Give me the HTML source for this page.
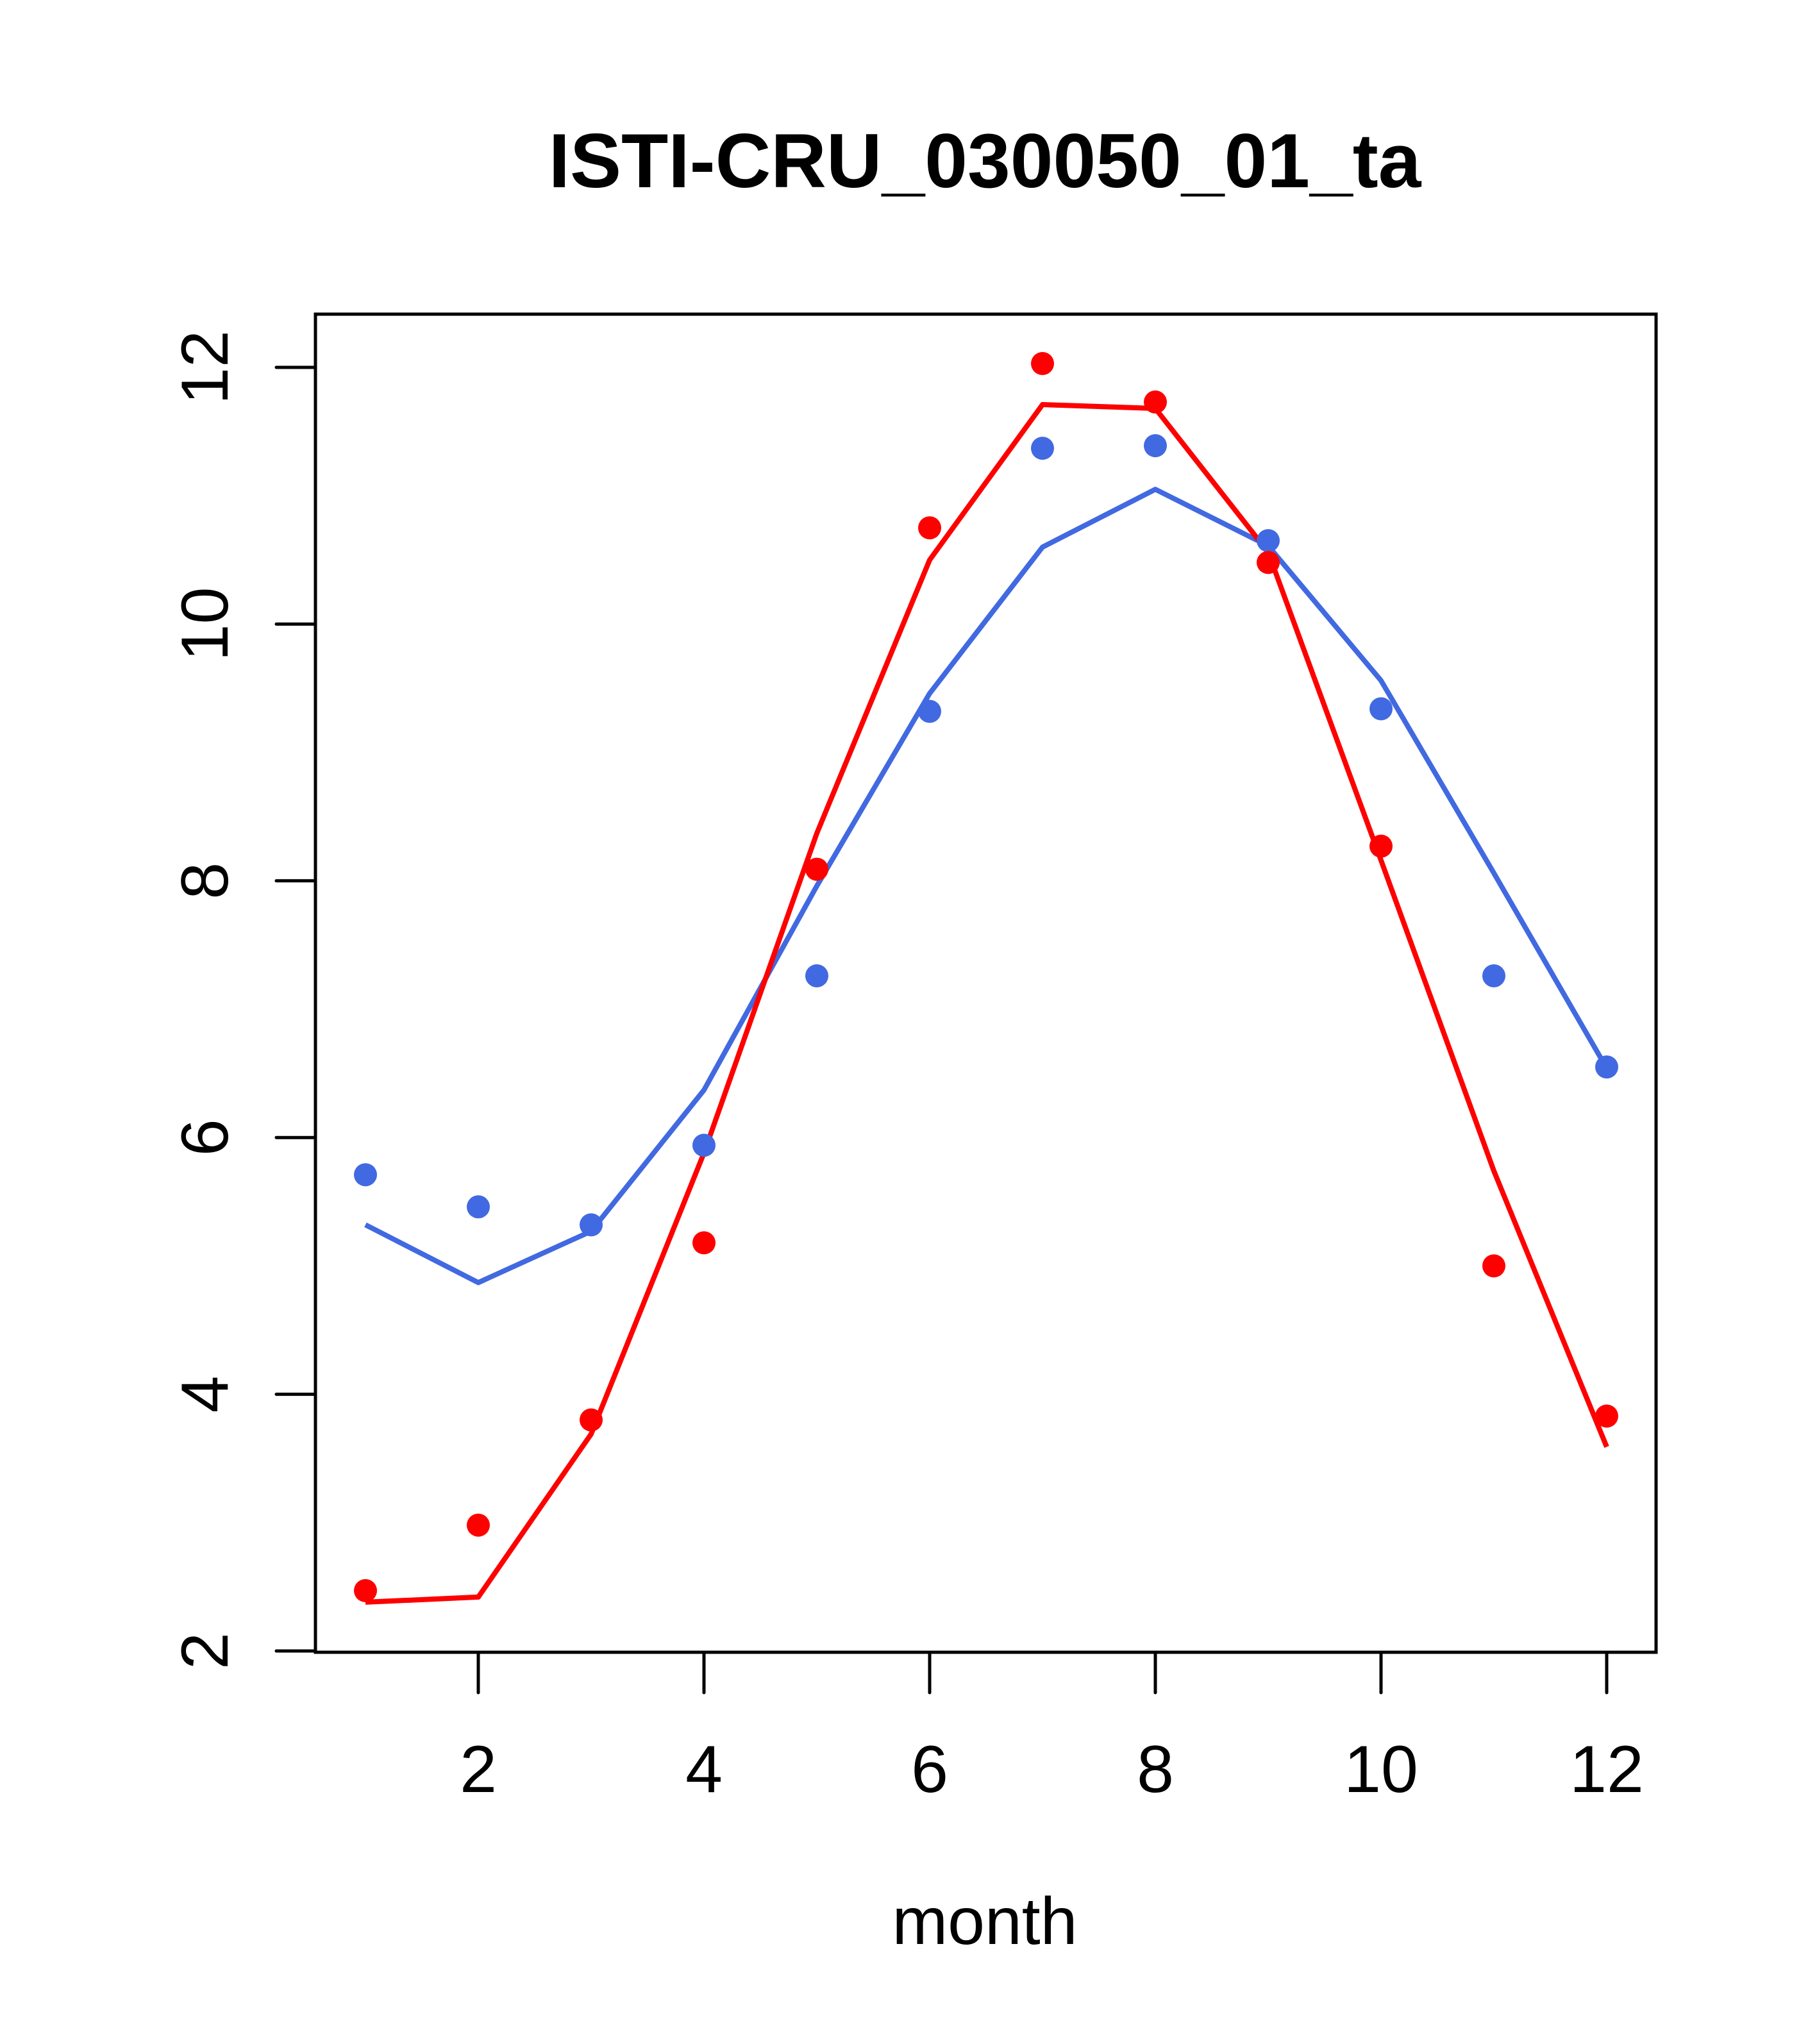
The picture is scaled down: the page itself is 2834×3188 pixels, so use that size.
<!DOCTYPE html>
<html><head><meta charset="utf-8"><style>body{margin:0;background:#fff}svg{display:block}text{font-family:"Liberation Sans",sans-serif}</style></head>
<body>
<svg id="chart" width="2834" height="3188" viewBox="0 0 2834 3188" xmlns="http://www.w3.org/2000/svg">
<rect width="2834" height="3188" fill="#fff"/>
<text x="1536" y="292" font-size="120" font-weight="bold" text-anchor="middle">ISTI-CRU_030050_01_ta</text>
<text x="1536" y="3032" font-size="104" text-anchor="middle">month</text>
<g id="axes"></g>
<g id="series"></g>
<rect x="492" y="490" width="2091" height="2087" fill="none" stroke="#000" stroke-width="5"/>
</svg>
<script>
const months = [1,2,3,4,5,6,7,8,9,10,11,12];
const redPoints = [2.47,2.98,3.80,5.18,8.09,10.75,12.03,11.73,10.48,8.27,5.00,3.83];
const redLine = [2.38,2.42,3.69,5.88,8.37,10.50,11.71,11.68,10.56,8.16,5.74,3.59];
const bluePoints = [5.71,5.46,5.32,5.94,7.26,9.32,11.37,11.39,10.65,9.34,7.26,6.55];
const blueLine = [5.32,4.87,5.27,6.37,7.96,9.46,10.60,11.05,10.61,9.56,8.06,6.54];
const xTicks = [2,4,6,8,10,12];
const yTicks = [2,4,6,8,10,12];
const NS = "http://www.w3.org/2000/svg";
function xs(m){return 1626 + (m-7)*176;}
function ys(v){return 2575 - (v-2)*200.2;}
const axes = document.getElementById('axes');
const series = document.getElementById('series');
function mk(tag, attrs, parent){const e=document.createElementNS(NS,tag);for(const k in attrs)e.setAttribute(k,attrs[k]);parent.appendChild(e);return e;}
xTicks.forEach(t=>{
  const l=mk('line',{x1:xs(t),x2:xs(t),y1:2577,y2:2640,stroke:'#000','stroke-width':5,'stroke-linecap':'round'},axes);
  
  
  const tx=mk('text',{x:xs(t),y:2795,'font-size':104,'text-anchor':'middle'},axes);
  tx.textContent=t;
  
  
});
yTicks.forEach(t=>{
  const l=mk('line',{x1:431,x2:492,y1:ys(t),y2:ys(t),stroke:'#000','stroke-width':5,'stroke-linecap':'round'},axes);
  
  
  const tx=mk('text',{x:0,y:0,'font-size':104,'text-anchor':'middle',transform:`translate(355,${ys(t)}) rotate(-90)`},axes);
  tx.textContent=t;
  
  
});
function line(vals,color,name){
  const p=mk('polyline',{points:vals.map((v,i)=>xs(months[i])+','+ys(v)).join(' '),fill:'none',stroke:color,'stroke-width':8,'stroke-linejoin':'round'},series);
  
  
}
function pts(vals,color,name){
  vals.forEach((v,i)=>{
    const c=mk('circle',{cx:xs(months[i]),cy:ys(v),r:18,fill:color},series);
    
    
  });
}
line(blueLine,'#4169E1','blue-line');
line(redLine,'#FF0000','red-line');
pts(bluePoints,'#4169E1','blue-point');
pts(redPoints,'#FF0000','red-point');
</script>
</body></html>
